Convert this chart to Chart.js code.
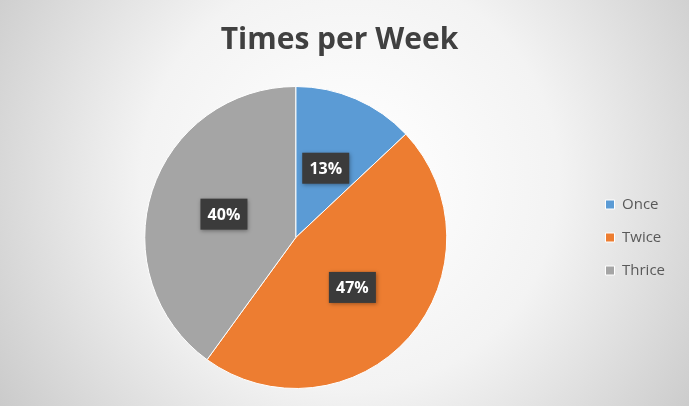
<!DOCTYPE html>
<html>
<head>
<meta charset="utf-8">
<script src="https://cdn.jsdelivr.net/npm/chart.js@4.4.1/dist/chart.umd.min.js"></script>
<style>
  html, body { margin: 0; padding: 0; background: #fff; }
  #wrap { width: 689px; height: 406px; }
</style>
</head>
<body>
<div id="wrap"><canvas id="chart" width="689" height="406"></canvas></div>
<script>
// ===== DATA =====
const categories = ["Once", "Twice", "Thrice"];
const shares = [13, 47, 40];
const sliceColors = ["#5B9BD5", "#ED7D31", "#A5A5A5"];

// ===== PLUGINS =====
const backdrop = {
  id: "backdrop",
  beforeDraw(chart) {
    const { ctx, width, height } = chart;
    const g = ctx.createRadialGradient(350, 180, 20, 350, 180, 440);
    g.addColorStop(0, "#ffffff");
    g.addColorStop(0.45, "#f3f3f3");
    g.addColorStop(1, "#c6c6c6");
    ctx.save();
    ctx.fillStyle = g;
    ctx.fillRect(0, 0, width, height);
    ctx.restore();
  }
};

const sliceLabels = {
  id: "sliceLabels",
  afterDatasetsDraw(chart) {
    const { ctx } = chart;
    const meta = chart.getDatasetMeta(0);
    ctx.save();
    ctx.font = "bold 16px 'Open Sans'";
    ctx.textAlign = "center";
    ctx.textBaseline = "middle";
    meta.data.forEach((arc, i) => {
      const p = arc.tooltipPosition();
      const text = shares[i] + "%";
      const w = 47, h = 31;
      ctx.shadowColor = "rgba(0,0,0,0.35)";
      ctx.shadowBlur = 4;
      ctx.shadowOffsetX = 1;
      ctx.shadowOffsetY = 1;
      ctx.fillStyle = "#3b3b3b";
      ctx.fillRect(p.x - w / 2, p.y - h / 2, w, h);
      ctx.shadowColor = "transparent";
      ctx.fillStyle = "#ffffff";
      ctx.fillText(text, p.x, p.y + 1);
    });
    ctx.restore();
  }
};

// ===== CHART =====
new Chart(document.getElementById("chart"), {
  type: "pie",
  data: {
    labels: categories,
    datasets: [{
      data: shares,
      backgroundColor: sliceColors,
      borderColor: "#ffffff",
      borderWidth: 1
    }]
  },
  options: {
    responsive: false,
    animation: false,
    layout: { padding: { left: 4, right: 14, top: 0, bottom: 17 } },
    plugins: {
      title: {
        display: true,
        text: "Times per Week",
        color: "#404040",
        font: { family: "'Open Sans'", size: 30, weight: "bold" },
        padding: { top: 22, bottom: 28 }
      },
      legend: {
        position: "right",
        align: "center",
        fullSize: false,
        labels: {
          color: "#595959",
          font: { family: "'Open Sans'", size: 15 },
          boxWidth: 9,
          boxHeight: 9,
          padding: 18
        }
      },
      tooltip: { enabled: false }
    }
  },
  plugins: [backdrop, sliceLabels]
});
</script>
</body>
</html>
